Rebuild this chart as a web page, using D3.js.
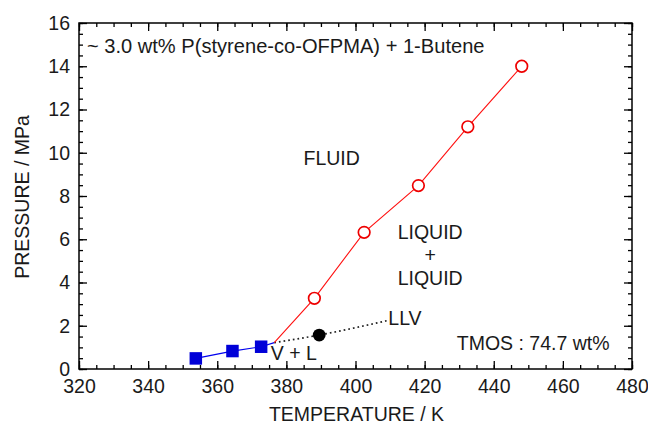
<!DOCTYPE html>
<html>
<head>
<meta charset="utf-8">
<script src="https://cdn.jsdelivr.net/npm/d3@7"></script>
<style>
  html, body { margin: 0; padding: 0; background: #fff; }
  svg { display: block; font-family: "Liberation Sans", Arial, sans-serif; }
</style>
</head>
<body>
<svg id="chart" width="648" height="424"></svg>
<script>
// Vapour + liquid boundary (filled squares)
const vlTemp = [353.8, 364.4, 372.7];
const vlPres = [0.49, 0.83, 1.03];

// Liquid + liquid boundary (open circles)
const llTemp = [388.1, 402.5, 418.2, 432.5, 448.1];
const llPres = [3.27, 6.32, 8.48, 11.2, 14.0];

// Point where the three boundaries meet
const junctionTemp = [376.5];
const junctionPres = [1.22];

// LLV line (dotted) and its measured point
const llvTemp = [376.5, 389.5, 409.0];
const llvPres = [1.22, 1.57, 2.23];
const llvPointTemp = [389.5];
const llvPointPres = [1.57];

// Axis ticks
const xTicks = [320, 340, 360, 380, 400, 420, 440, 460, 480];
const yTicks = [0, 2, 4, 6, 8, 10, 12, 14, 16];

const svg = d3.select("#chart");
const m = { left: 79, top: 23, right: 16, bottom: 55 };
const W = 648 - m.left - m.right;
const H = 424 - m.top - m.bottom;

const x = d3.scaleLinear().domain([320, 480]).range([0, W]);
const y = d3.scaleLinear().domain([0, 16]).range([H, 0]);

const g = svg.append("g").attr("transform", `translate(${m.left},${m.top})`);

const textColor = "#1a1a1a";
const fontSize = 19.5;

// ---- axes: inward ticks on all four sides ----
const xMinor = d3.range(320, 480.1, 5);
const yMinor = d3.range(0, 16.01, 0.5);

function styleAxis(sel) {
  sel.selectAll("path").remove();
  sel.selectAll("line").attr("stroke", "#000").attr("stroke-width", 1.3);
  sel.selectAll("text").attr("fill", textColor)
    .style("font-size", fontSize + "px")
    .style("font-family", "'Liberation Sans', Arial, sans-serif");
}

// minor ticks
g.append("g").attr("transform", `translate(0,${H})`)
  .call(d3.axisBottom(x).tickValues(xMinor).tickSize(-4).tickFormat(""))
  .call(styleAxis);
g.append("g")
  .call(d3.axisTop(x).tickValues(xMinor).tickSize(-4).tickFormat(""))
  .call(styleAxis);
g.append("g")
  .call(d3.axisLeft(y).tickValues(yMinor).tickSize(-4).tickFormat(""))
  .call(styleAxis);
g.append("g").attr("transform", `translate(${W},0)`)
  .call(d3.axisRight(y).tickValues(yMinor).tickSize(-4).tickFormat(""))
  .call(styleAxis);

// major ticks with labels
g.append("g").attr("transform", `translate(0,${H})`)
  .call(d3.axisBottom(x).tickValues(xTicks).tickSize(-8).tickPadding(10).tickFormat(d3.format("d")))
  .call(styleAxis);
g.append("g")
  .call(d3.axisTop(x).tickValues(xTicks).tickSize(-8).tickFormat(""))
  .call(styleAxis);
g.append("g")
  .call(d3.axisLeft(y).tickValues(yTicks).tickSize(-8).tickPadding(9).tickFormat(d3.format("d")))
  .call(styleAxis);
g.append("g").attr("transform", `translate(${W},0)`)
  .call(d3.axisRight(y).tickValues(yTicks).tickSize(-8).tickFormat(""))
  .call(styleAxis);

// frame
g.append("rect").attr("width", W).attr("height", H)
  .attr("fill", "none").attr("stroke", "#000").attr("stroke-width", 1.5);

// ---- lines ----
const line = d3.line().x(d => x(d[0])).y(d => y(d[1]));

const vlPts = vlTemp.map((t, i) => [t, vlPres[i]]).concat([[junctionTemp[0], junctionPres[0]]]);
const llPts = [[junctionTemp[0], junctionPres[0]]].concat(llTemp.map((t, i) => [t, llPres[i]]));
const llvPts = llvTemp.map((t, i) => [t, llvPres[i]]);

g.append("path").datum(llvPts)
  .attr("d", line.curve(d3.curveMonotoneX))
  .attr("fill", "none").attr("stroke", "#222").attr("stroke-width", 1.7)
  .attr("stroke-dasharray", "1.7,3");
line.curve(d3.curveLinear);

g.append("path").datum(vlPts)
  .attr("d", line)
  .attr("fill", "none").attr("stroke", "#0000ee").attr("stroke-width", 1.2);

g.append("path").datum(llPts)
  .attr("d", line)
  .attr("fill", "none").attr("stroke", "#ff1010").attr("stroke-width", 1.1);

// ---- markers ----
const sq = 12.5;
g.selectAll("rect.vl").data(vlTemp).join("rect")
  .attr("class", "vl")
  .attr("x", (d) => x(d) - sq / 2)
  .attr("y", (d, i) => y(vlPres[i]) - sq / 2)
  .attr("width", sq).attr("height", sq)
  .attr("fill", "#0000d8");

g.selectAll("circle.ll").data(llTemp).join("circle")
  .attr("class", "ll")
  .attr("cx", d => x(d))
  .attr("cy", (d, i) => y(llPres[i]))
  .attr("r", 5.8)
  .attr("fill", "#fff").attr("stroke", "#ee0000").attr("stroke-width", 1.7);

g.selectAll("circle.llv").data(llvPointTemp).join("circle")
  .attr("class", "llv")
  .attr("cx", d => x(d))
  .attr("cy", (d, i) => y(llvPointPres[i]))
  .attr("r", 6.4)
  .attr("fill", "#000");

// ---- annotations ----
const labels = [
  { text: "~ 3.0 wt% P(styrene-co-OFPMA) + 1-Butene", t: 322.3, p: 14.59, anchor: "start", size: 20.1 },
  { text: "FLUID", t: 393.1, p: 9.43, anchor: "middle", size: fontSize },
  { text: "LIQUID", t: 421.6, p: 6.03, anchor: "middle", size: fontSize },
  { text: "+", t: 421.6, p: 4.97, anchor: "middle", size: fontSize },
  { text: "LIQUID", t: 421.6, p: 3.9, anchor: "middle", size: fontSize },
  { text: "LLV", t: 409.5, p: 2.03, anchor: "start", size: fontSize },
  { text: "V + L", t: 375.5, p: 0.4, anchor: "start", size: fontSize },
  { text: "TMOS : 74.7 wt%", t: 429.3, p: 0.88, anchor: "start", size: fontSize }
];

g.selectAll("text.note").data(labels).join("text")
  .attr("class", "note")
  .attr("x", d => x(d.t))
  .attr("y", d => y(d.p))
  .attr("text-anchor", d => d.anchor)
  .attr("fill", textColor)
  .style("font-size", d => d.size + "px")
  .text(d => d.text);

// axis titles
svg.append("text")
  .attr("x", m.left + W / 2 + 1)
  .attr("y", 421)
  .attr("text-anchor", "middle")
  .attr("fill", textColor)
  .style("font-size", fontSize + "px")
  .text("TEMPERATURE / K");

svg.append("text")
  .attr("transform", `translate(29,${m.top + H / 2 + 1}) rotate(-90)`)
  .attr("text-anchor", "middle")
  .attr("fill", textColor)
  .style("font-size", fontSize + "px")
  .text("PRESSURE / MPa");
</script>
</body>
</html>
